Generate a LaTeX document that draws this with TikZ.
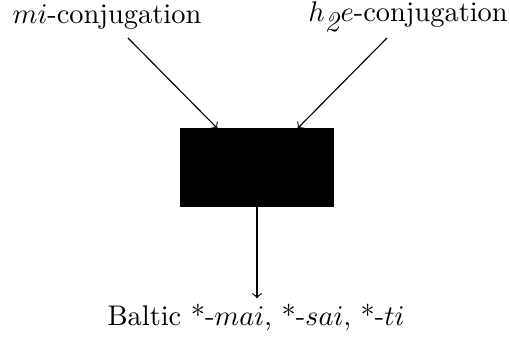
\documentclass[tikz,border=0pt]{standalone}
\usepackage{tikz}
\usetikzlibrary{positioning,calc}

\begin{document}
\begin{tikzpicture}[x=0.352pt, y=-0.352pt,
  form/.style={inner sep=2pt},
  blackbox/.style={draw, fill=black, minimum width=152*0.352pt, minimum height=77*0.352pt, inner sep=0pt}]
\useasboundingbox (0,0) rectangle (510,337);
\node[form] (mi) at (107,17) {$mi$-conjugation};
\node[form] (hte) at (408,17) {$h_{\textit{2}}e$-conjugation};
\node[blackbox] (box) at (257,167.5) {};
\node[form] (baltic) at (256,318) {Baltic *-$mai$, *-$sai$, *-$ti$};
\coordinate (mistart) at (128,38);
\coordinate (htestart) at (387,38);
\draw[->] (mistart) -- ($(box.north west)+(37,0)$);
\draw[->] (htestart) -- ($(box.north east)+(-36,0)$);
\draw[->] (box.south) -- (box.south |- baltic.north);
\end{tikzpicture}
\end{document}
